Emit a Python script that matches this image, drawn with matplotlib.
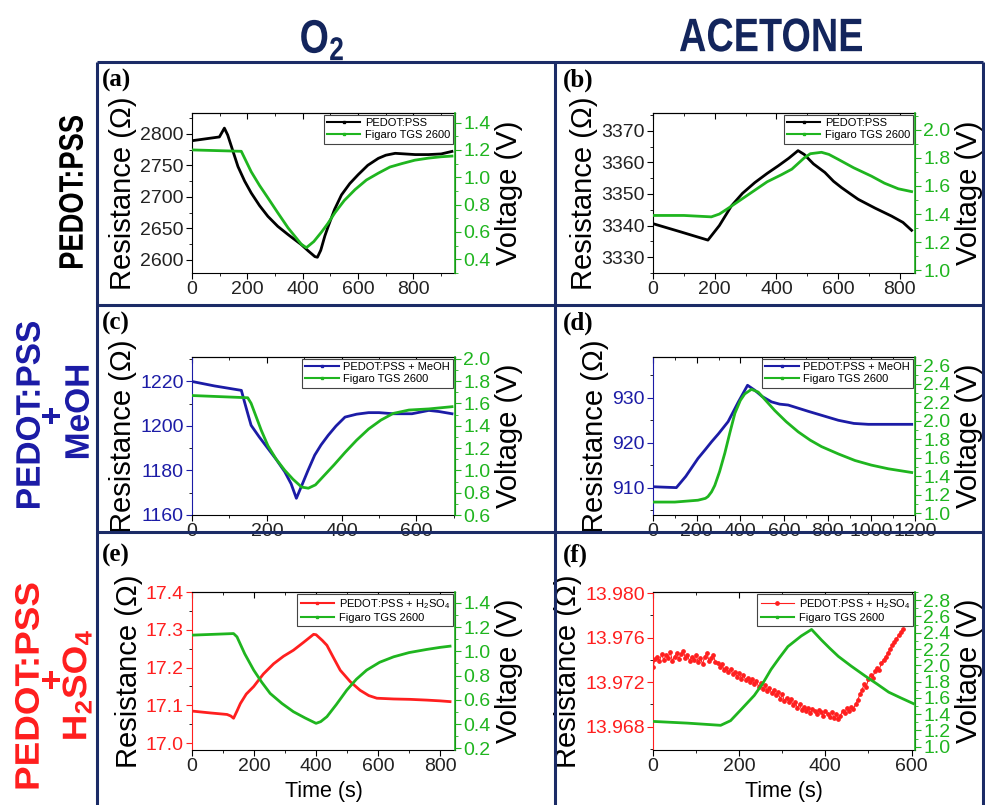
"""
Sensor response of PEDOT:PSS films vs. Figaro TGS 2600 (O2 and acetone)
"""

import matplotlib.pyplot as plt
from matplotlib.lines import Line2D
from matplotlib.ticker import AutoMinorLocator
from matplotlib.textpath import TextPath
from matplotlib.patches import PathPatch
from matplotlib.font_manager import FontProperties
from matplotlib.transforms import Affine2D, IdentityTransform

plt.rcParams['font.family'] = ['Liberation Sans', 'DejaVu Sans']
plt.rcParams['mathtext.default'] = 'regular'

GREEN = '#1fb51f'
BLUE = '#1c1ca6'
RED = '#ff1f1f'
NAVY = '#1b2b66'

# (a) O2 - PEDOT:PSS
a_t_res = [0, 99, 117, 129, 166, 190, 214, 244, 274, 310, 347, 395, 420, 444, 453, 465, 480, 492,
           515, 540, 570, 600, 635, 673, 700, 734, 770, 806, 854, 900, 939]
a_res = [2789, 2795, 2809, 2798, 2748, 2725, 2706, 2686, 2669, 2653, 2640, 2624, 2614, 2605, 2604,
         2615, 2638, 2653, 2680, 2703, 2721, 2735, 2750, 2761, 2766, 2769, 2768, 2767, 2767, 2768, 2772]
a_t_volt = [0, 178, 190, 214, 244, 274, 310, 347, 375, 395, 413, 440, 468, 490, 516, 550, 589, 630,
            673, 715, 758, 805, 854, 900, 939]
a_volt = [1.20, 1.19, 1.14, 1.04, 0.94, 0.85, 0.74, 0.63, 0.56, 0.51, 0.485, 0.53, 0.60, 0.66, 0.74,
          0.83, 0.91, 0.98, 1.03, 1.075, 1.10, 1.125, 1.14, 1.15, 1.155]

# (b) acetone - PEDOT:PSS
b_t_res = [0, 90, 178, 215, 254, 290, 330, 370, 406, 440, 470, 490, 520, 557, 585, 611, 640, 665,
           720, 773, 810, 838]
b_res = [3340.6, 3338, 3335.4, 3340, 3346.2, 3350.2, 3353.6, 3356.5, 3358.9, 3361.3, 3363.7, 3362.5,
         3359.5, 3356.8, 3354, 3352, 3350, 3348.3, 3345.5, 3343, 3341, 3338.5]
b_t_volt = [0, 100, 189, 215, 243, 290, 330, 370, 416, 450, 470, 490, 510, 546, 570, 600, 650, 708,
            750, 795, 838]
b_volt = [1.39, 1.39, 1.38, 1.40, 1.44, 1.51, 1.57, 1.63, 1.68, 1.72, 1.76, 1.80, 1.83, 1.84, 1.825,
          1.79, 1.73, 1.67, 1.62, 1.58, 1.56]

# (c) O2 - PEDOT:PSS + MeOH
c_t_res = [0, 60, 132, 140, 150, 158, 180, 203, 225, 248, 265, 279, 292, 310, 328, 345, 364, 385,
           409, 440, 472, 500, 538, 588, 633, 660, 695]
c_res = [1220, 1218, 1216, 1211, 1205, 1200.3, 1195, 1189.9, 1185, 1179.4, 1174, 1167.5, 1172.7,
         1180, 1186.9, 1191.5, 1195.8, 1200, 1204, 1205.3, 1206, 1206, 1205.5, 1205.5, 1207, 1206.5,
         1205.5]
c_t_volt = [0, 149, 158, 167, 185, 203, 225, 248, 270, 293, 311, 330, 355, 380, 409, 440, 472, 505,
            538, 580, 633, 695]
c_volt = [1.67, 1.65, 1.60, 1.52, 1.36, 1.22, 1.10, 1.00, 0.92, 0.85, 0.84, 0.87, 0.96, 1.05, 1.16,
          1.27, 1.37, 1.45, 1.51, 1.54, 1.55, 1.57]

# (d) acetone - PEDOT:PSS + MeOH
d_t_res = [0, 50, 107, 150, 206, 240, 268, 300, 344, 390, 433, 466, 500, 543, 580, 619, 665, 711,
           780, 849, 920, 986, 1078, 1185]
d_res = [910.2, 910.1, 910, 912.5, 916.5, 918.5, 920.2, 922, 924.7, 929, 932.8, 931.7, 930.3, 929.1,
         928.6, 928.4, 927.7, 927, 926, 925, 924.3, 924.1, 924.1, 924.1]
d_t_volt = [0, 100, 206, 240, 252, 268, 283, 305, 329, 352, 375, 400, 420, 451, 482, 520, 558, 610,
            665, 720, 772, 850, 925, 1000, 1078, 1185]
d_volt = [1.12, 1.12, 1.14, 1.16, 1.18, 1.23, 1.30, 1.45, 1.65, 1.87, 2.08, 2.22, 2.29, 2.34, 2.31,
          2.21, 2.11, 1.99, 1.88, 1.79, 1.72, 1.64, 1.57, 1.52, 1.48, 1.44]

# (e) O2 - PEDOT:PSS + H2SO4
e_t_res = [0, 60, 113, 125, 134, 145, 156, 175, 199, 230, 263, 295, 327, 360, 392, 400, 408, 420,
           435, 455, 478, 510, 542, 570, 596, 650, 703, 757, 800, 832]
e_res = [17.085, 17.080, 17.076, 17.072, 17.066, 17.085, 17.105, 17.130, 17.150, 17.183, 17.210,
         17.230, 17.246, 17.267, 17.288, 17.287, 17.281, 17.272, 17.259, 17.228, 17.193, 17.163,
         17.140, 17.126, 17.119, 17.117, 17.116, 17.114, 17.112, 17.110]
e_t_volt = [0, 134, 145, 170, 199, 225, 252, 290, 327, 365, 400, 415, 435, 465, 499, 530, 563, 605,
            650, 700, 757, 800, 832]
e_volt = [1.134, 1.147, 1.12, 0.98, 0.845, 0.745, 0.653, 0.57, 0.502, 0.45, 0.406, 0.42, 0.461, 0.56,
          0.68, 0.77, 0.845, 0.91, 0.955, 0.99, 1.016, 1.033, 1.043]

# (f) acetone - PEDOT:PSS + H2SO4 (one reading every 5 s)
f_t_res = list(range(0, 585, 5))
f_res = [13.9734, 13.9741, 13.9743, 13.9739, 13.9745, 13.9740, 13.9744, 13.9742, 13.9747, 13.9739,
         13.9743, 13.9746, 13.9741, 13.9745, 13.9748, 13.9742, 13.9744, 13.9739, 13.9743, 13.9740,
         13.9744, 13.9738, 13.9742, 13.9736, 13.9743, 13.9746, 13.9739, 13.9742, 13.9744, 13.9738,
         13.9737, 13.9734, 13.9736, 13.9731, 13.9733, 13.9729, 13.9732, 13.9727, 13.9729, 13.9725,
         13.9728, 13.9723, 13.9726, 13.9722, 13.9724, 13.9720, 13.9723, 13.9718, 13.9721, 13.9716,
         13.9719, 13.9714, 13.9717, 13.9712, 13.9715, 13.9710, 13.9713, 13.9708, 13.9711, 13.9705,
         13.9709, 13.9703, 13.9706, 13.9702, 13.9705, 13.9699, 13.9702, 13.9697, 13.9700, 13.9695,
         13.9698, 13.9694, 13.9697, 13.9692, 13.9696, 13.9694, 13.9691, 13.9695, 13.9693, 13.9690,
         13.9694, 13.9691, 13.9689, 13.9693, 13.9688, 13.9691, 13.9687, 13.9690, 13.9694, 13.9692,
         13.9697, 13.9694, 13.9698, 13.9696, 13.9700, 13.9704, 13.9709, 13.9713, 13.9718, 13.9716,
         13.9723, 13.9726, 13.9724, 13.9730, 13.9733, 13.9731, 13.9737, 13.9740, 13.9743, 13.9746,
         13.9750, 13.9753, 13.9756, 13.9759, 13.9762, 13.9765, 13.9768]
f_t_volt = [0, 80, 157, 180, 205, 235, 255, 274, 293, 313, 344, 368, 391, 410, 430, 460, 492, 520,
            547, 575, 604]
f_volt = [1.311, 1.29, 1.263, 1.32, 1.46, 1.63, 1.78, 1.95, 2.09, 2.23, 2.36, 2.44, 2.31, 2.21, 2.11,
          1.99, 1.87, 1.77, 1.67, 1.60, 1.53]

# tick values
a_res_ticks = [2600, 2650, 2700, 2750, 2800]
b_res_ticks = [3330, 3340, 3350, 3360, 3370]
c_res_ticks = [1160, 1180, 1200, 1220]
d_res_ticks = [910, 920, 930]
e_res_ticks = [17.0, 17.1, 17.2, 17.3, 17.4]
f_res_ticks = [13.968, 13.972, 13.976, 13.980]
a_volt_ticks = [0.4, 0.6, 0.8, 1.0, 1.2, 1.4]
b_volt_ticks = [1.0, 1.2, 1.4, 1.6, 1.8, 2.0]
c_volt_ticks = [0.6, 0.8, 1.0, 1.2, 1.4, 1.6, 1.8, 2.0]
d_volt_ticks = [1.0, 1.2, 1.4, 1.6, 1.8, 2.0, 2.2, 2.4, 2.6]
e_volt_ticks = [0.2, 0.4, 0.6, 0.8, 1.0, 1.2, 1.4]
f_volt_ticks = [1.0, 1.2, 1.4, 1.6, 1.8, 2.0, 2.2, 2.4, 2.6, 2.8]

W, H = 985, 805
fig = plt.figure(figsize=(W / 100, H / 100), dpi=100)
BOLD = FontProperties(family='Liberation Sans', weight='bold')


def narrow_text(x, y, s, size, length, color, rotate=False, squeeze=None):
    # bold text squeezed along its baseline, centred on pixel (x, y) counted from the top
    path = TextPath((0, 0), s, size=size, prop=BOLD)
    bb = path.get_extents()
    if squeeze is None:
        squeeze = length / bb.width
    tr = Affine2D().translate(-(bb.x0 + bb.x1) / 2, -(bb.y0 + bb.y1) / 2).scale(squeeze, 1)
    if rotate:
        tr = tr.rotate_deg(90)
    tr = tr.translate(x, H - y)
    fig.add_artist(PathPatch(tr.transform_path(path), facecolor=color, lw=0,
                             transform=IdentityTransform()))
    return squeeze


def panel(px, t1, r, col, name, t2, v, xmax, xticks, rlim, rticks, rfmt, vlim, vticks,
          xlabel=False, noisy=False):
    left, top, right, bottom = px
    ax = fig.add_axes([left / W, 1 - bottom / H, (right - left) / W, (bottom - top) / H])
    if noisy:
        ax.plot(t1, r, color=col, lw=0.8, marker='o', ms=2.4)
    else:
        ax.plot(t1, r, color=col, lw=2, solid_joinstyle='round')
    ax.set_xlim(0, xmax)
    ax.set_xticks(xticks)
    ax.set_ylim(*rlim)
    ax.set_yticks(rticks)
    ax.set_yticklabels([rfmt % t for t in rticks])
    ax.xaxis.set_minor_locator(AutoMinorLocator(2))
    ax.yaxis.set_minor_locator(AutoMinorLocator(2))
    ax.tick_params(which='both', direction='out', labelsize=14, pad=2, labelcolor='#222222')
    ax.tick_params(which='major', length=4)
    ax.tick_params(which='minor', length=2.5)
    ax.tick_params(axis='y', colors=col)
    if col == 'black':
        ax.tick_params(axis='y', labelcolor='#222222')
    ax.spines['left'].set_color(col)
    ax.set_ylabel('Resistance (Ω)', fontsize=21, labelpad=2)
    if xlabel:
        ax.set_xlabel('Time (s)', fontsize=15.5, labelpad=4)

    top_ax = ax.secondary_xaxis('top')
    top_ax.set_xticks(xticks)
    top_ax.xaxis.set_minor_locator(AutoMinorLocator(2))
    top_ax.tick_params(which='both', direction='in', labeltop=False)
    top_ax.tick_params(which='major', length=4)
    top_ax.tick_params(which='minor', length=2.5)

    ax2 = ax.twinx()
    ax2.plot(t2, v, color=GREEN, lw=2, solid_joinstyle='round')
    ax2.set_ylim(*vlim)
    ax2.set_yticks(vticks)
    ax2.set_yticklabels(['%.1f' % t for t in vticks])
    ax2.yaxis.set_minor_locator(AutoMinorLocator(2))
    ax2.tick_params(which='both', direction='out', colors=GREEN, labelsize=14, pad=2)
    ax2.tick_params(which='major', length=4)
    ax2.tick_params(which='minor', length=2.5)
    for s in ['left', 'top', 'bottom']:
        ax2.spines[s].set_visible(False)
    ax2.spines['right'].set_color(GREEN)
    ax2.spines['right'].set_linewidth(1.2)
    ax2.set_ylabel('Voltage (V)', fontsize=21, labelpad=3)

    if noisy:
        h1 = Line2D([], [], color=col, lw=0.8, marker='o', ms=2.4)
    else:
        h1 = Line2D([], [], color=col, lw=1.5, marker='s', ms=2)
    h2 = Line2D([], [], color=GREEN, lw=1.5, marker='s', ms=2)
    leg = ax2.legend([h1, h2], [name, 'Figaro TGS 2600'], loc='upper right', fontsize=8,
                     frameon=True, fancybox=False, edgecolor='#444444', framealpha=1,
                     borderpad=0.3, labelspacing=0.2, handlelength=3.0, handletextpad=0.4,
                     borderaxespad=0.15)
    leg.get_frame().set_linewidth(0.8)
    return ax


col0 = (192, 455)
col1 = (653, 915)
row0 = (113, 273)
row1 = (357, 515)
row2 = (592, 750)

panel((col0[0], row0[0], col0[1], row0[1]), a_t_res, a_res, 'black', 'PEDOT:PSS',
      a_t_volt, a_volt, 950, [0, 200, 400, 600, 800], (2579, 2833), a_res_ticks, '%d',
      (0.30, 1.47), a_volt_ticks)
panel((col1[0], row0[0], col1[1], row0[1]), b_t_res, b_res, 'black', 'PEDOT:PSS',
      b_t_volt, b_volt, 849, [0, 200, 400, 600, 800], (3325, 3375.6), b_res_ticks, '%d',
      (0.98, 2.12), b_volt_ticks)
panel((col0[0], row1[0], col0[1], row1[1]), c_t_res, c_res, BLUE, 'PEDOT:PSS + MeOH',
      c_t_volt, c_volt, 703, [0, 200, 400, 600], (1160, 1231), c_res_ticks, '%d',
      (0.6, 2.015), c_volt_ticks)
panel((col1[0], row1[0], col1[1], row1[1]), d_t_res, d_res, BLUE, 'PEDOT:PSS + MeOH',
      d_t_volt, d_volt, 1200, [0, 200, 400, 600, 800, 1000, 1200], (903.9, 939.1), d_res_ticks,
      '%d', (0.98, 2.69), d_volt_ticks)
panel((col0[0], row2[0], col0[1], row2[1]), e_t_res, e_res, RED,
      'PEDOT:PSS + H$_2$SO$_4$', e_t_volt, e_volt, 848, [0, 200, 400, 600, 800],
      (16.982, 17.4), e_res_ticks, '%.1f', (0.186, 1.49), e_volt_ticks, xlabel=True)
panel((col1[0], row2[0], col1[1], row2[1]), f_t_res, f_res, RED,
      'PEDOT:PSS + H$_2$SO$_4$', f_t_volt, f_volt, 608, [0, 200, 400, 600],
      (13.9659, 13.9801), f_res_ticks, '%.3f', (0.96, 2.9), f_volt_ticks, xlabel=True, noisy=True)

# panel tags
for tag, x, y in [('(a)', 102, 80), ('(b)', 563, 80), ('(c)', 102, 323), ('(d)', 563, 323),
                  ('(e)', 102, 555), ('(f)', 563, 555)]:
    fig.text(x / W, 1 - y / H, tag, fontsize=18, fontweight='bold', family='Liberation Serif',
             ha='left', va='center')

# grid frame
frame = dict(color=NAVY, lw=2.2, transform=fig.transFigure, solid_capstyle='butt')
fig.add_artist(Line2D([97 / W, 983 / W], [1 - 62 / H, 1 - 62 / H], **frame))
fig.add_artist(Line2D([97 / W, 97 / W], [1 - 62 / H, -0.01], **frame))
fig.add_artist(Line2D([983 / W, 983 / W], [1 - 62 / H, -0.01], **frame))
fig.add_artist(Line2D([555 / W, 555 / W], [1 - 62 / H, -0.01], **frame))
fig.add_artist(Line2D([97 / W, 983 / W], [1 - 305 / H, 1 - 305 / H], **frame))
fig.add_artist(Line2D([97 / W, 983 / W], [1 - 532 / H, 1 - 532 / H], **frame))

# column headers
HEAD = '#13255c'
narrow_text(322, 40, 'O$_2$', 47, None, HEAD, squeeze=0.8)
narrow_text(771, 35, 'ACETONE', 47, 182, HEAD)

# row headers
narrow_text(71, 192, 'PEDOT:PSS', 34, 152, 'black', rotate=True)
sq = narrow_text(28, 415, 'PEDOT:PSS', 34, 186, BLUE, rotate=True)
narrow_text(51, 416, '+', 34, None, BLUE, rotate=True, squeeze=sq)
narrow_text(77, 412, 'MeOH', 34, None, BLUE, rotate=True, squeeze=sq)
sq = narrow_text(27, 686, 'PEDOT:PSS', 34, 205, RED, rotate=True)
narrow_text(51, 680, '+', 34, None, RED, rotate=True, squeeze=sq)
narrow_text(77, 685, 'H$_2$SO$_4$', 34, None, RED, rotate=True, squeeze=sq)

fig.savefig('out.png', dpi=100)
